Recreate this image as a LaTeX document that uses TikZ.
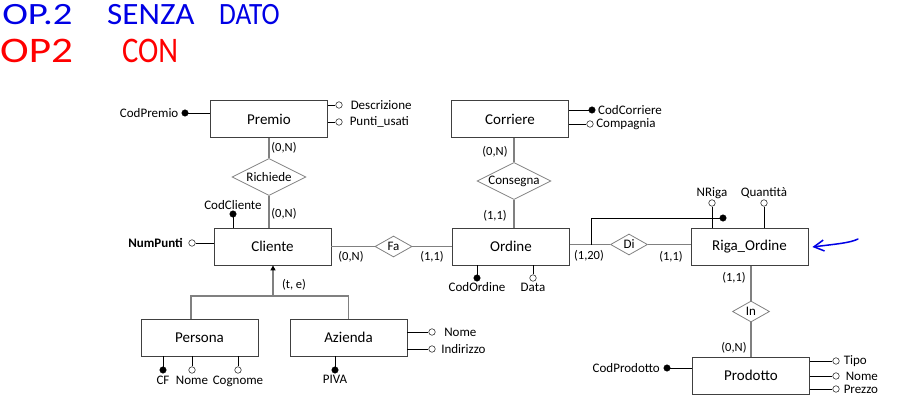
\documentclass[tikz,border=0pt]{standalone}
\usepackage{fontspec}
\setmainfont{Carlito}
\usetikzlibrary{shapes.geometric,arrows.meta,positioning}

\tikzset{
  entita/.style={draw=black!75, line width=0.8pt, minimum width=117pt, minimum height=37pt, inner sep=0pt, font=\fontsize{15}{18}\selectfont},
  rel/.style={diamond, draw=black!50, line width=0.8pt, aspect=2, inner sep=0pt, font=\fontsize{13}{15}\selectfont},
  relbig/.style={rel, minimum width=74pt, minimum height=37pt},
  relsmall/.style={rel, minimum width=37pt, minimum height=21pt},
  lnk/.style={draw=black!50, line width=1.1pt},
  att/.style={draw=black, line width=0.7pt},
  pk/.style={circle, fill=black, draw=black, inner sep=0pt, minimum size=6.5pt},
  op/.style={circle, fill=white, draw=black!80, line width=0.6pt, inner sep=0pt, minimum size=6.5pt},
  lab/.style={inner sep=0pt, font=\fontsize{13}{15}\selectfont},
  card/.style={inner sep=0pt, font=\fontsize{12.5}{15}\selectfont},
  hand/.style={text=#1, inner sep=0pt, anchor=base west, font=\fontsize{31}{31}\selectfont}
}

\begin{document}
\begin{tikzpicture}[x=1pt,y=-1pt]
\useasboundingbox (0,0) rectangle (907,406);
\pgfmathsetmacro{\dy}{278}
\pgfmathsetmacro{\py}{370}

% note scritte a mano
\node[hand=blue!90!black, xscale=1.25] (op1) at (2,25) {OP.2};
\node[hand=blue!90!black, xscale=1.07] (senza) at (107,25) {SENZA};
\node[hand=blue!90!black, xscale=0.88] (dato) at (219,25) {DATO};
\node[hand=red, font=\fontsize{36}{36}\selectfont, xscale=1.2] (op2) at (0,63) {OP2};
\node[hand=red, font=\fontsize{36}{36}\selectfont, xscale=0.85] (con) at (122,63) {CON};

% entita
\node[entita] (premio) at (269,119) {Premio};
\node[entita] (corriere) at (510,119) {Corriere};
\node[entita] (cliente) at (272.5,246.5) {Cliente};
\node[entita] (ordine) at (511,246.5) {Ordine};
\node[entita] (riga) at (749.5,247) {Riga\_Ordine};
\node[entita] (persona) at (199.5,337.5) {Persona};
\node[entita] (azienda) at (348.5,337.5) {Azienda};
\node[entita] (prodotto) at (751,375.5) {Prodotto};

% relazioni
\node[relbig] (richiede) at (269,177) {Richiede};
\node[relbig] (consegna) at (514,181) {Consegna};
\node[relsmall] (fa) at (393.5,246.5) {Fa};
\node[relsmall] (di) at (629,244.5) {Di};
\node[relsmall] (inrel) at (751,311.5) {In};

\draw[lnk] (premio.south) -- (richiede.north);
\draw[lnk] (richiede.south) -- (richiede.south |- cliente.north);
\draw[lnk] ([xshift=4pt]corriere.south) -- (consegna.north);
\draw[lnk] (consegna.south) -- (consegna.south |- ordine.north);
\draw[lnk] (cliente.east |- fa) -- (fa.west);
\draw[lnk] (fa.east) -- (ordine.west |- fa);
\draw[lnk] (ordine.east |- di) -- (di.west);
\draw[lnk] (di.east) -- (riga.west |- di);
\draw[lnk] (riga.south -| inrel) -- (inrel.north);
\draw[lnk] (inrel.south) -- (prodotto.north -| inrel);

% generalizzazione
\coordinate (gen) at (273,296);
\draw[lnk, -{Triangle[length=5pt,width=5pt,color=black]}] (gen) -- (gen |- cliente.south);
\draw[lnk] ([xshift=-8.5pt]persona.north) |- (gen) -| (azienda.north);
\node[card] (te) at (294,285) {(t, e)};

% cardinalita
\foreach \x/\y/\t [count=\i] in {284/148/{(0,N)}, 284/214/{(0,N)}, 351/257/{(0,N)}, 432/257/{(1,1)},
  495/152/{(0,N)}, 495/216/{(1,1)}, 589/256/{(1,20)}, 671/257/{(1,1)}, 734/278/{(1,1)}, 734/348/{(0,N)}}{
  \node[card] (card\i) at (\x,\y) {\t};
}

% attributi
\node[pk] (codpremio) at (185,113) {};
\draw[att] (codpremio) -- (premio.west |- codpremio);
\node[lab, left=3pt of codpremio] (codpremio-t) {CodPremio};
\foreach \y/\t/\n/\d in {105/Descrizione/descr/8pt, 122/Punti\_usati/punti/7pt}{
  \node[op] (\n) at (339,\y) {};
  \draw[att] (premio.east |- \n) -- (\n);
  \node[lab, right=\d of \n] (\n-t) {\t};
}

\node[pk] (codcorr) at (592,110) {};
\draw[att] (corriere.east |- codcorr) -- (codcorr);
\node[lab, right=2.5pt of codcorr] (codcorr-t) {CodCorriere};
\node[op] (comp) at (590,124) {};
\draw[att] (corriere.east |- comp) -- (comp);
\node[lab, right=2.5pt of comp] (comp-t) {Compagnia};

\node[pk] (codcli) at (233,214) {};
\draw[att] (codcli) -- (codcli |- cliente.north);
\node[lab, above=1pt of codcli] (codcli-t) {CodCliente};
\node[op] (numpunti) at (192,243) {};
\draw[att] (numpunti) -- (cliente.west |- numpunti);
\node[lab, left=5.5pt of numpunti, font=\fontsize{13}{15}\selectfont\bfseries] (numpunti-t) {NumPunti};

\foreach \x/\t/\n/\s in {477/CodOrdine/codord/pk, 533/Data/data/op}{
  \node[\s] (\n) at (\x,\dy) {};
  \draw[att] (\n) -- (\n |- ordine.south);
  \node[lab, below=1pt of \n] (\n-t) {\t};
}

\foreach \x/\t/\n in {712/NRiga/nriga, 764/Quantità/quant}{
  \node[op] (\n) at (\x,203) {};
  \draw[att] (\n) -- (\n |- riga.north);
  \node[lab, above=1pt of \n] (\n-t) {\t};
}
\node[pk] (idriga) at (723,218) {};
\draw[att] ([xshift=21pt]ordine.east |- di) |- (idriga);

\foreach \x/\t/\n/\s in {163/CF/cf/pk, 192/Nome/pnome/op, 238/Cognome/cogn/op}{
  \node[\s] (\n) at (\x,\py) {};
  \draw[att] (\n) -- (\n |- persona.south);
  \node[lab, below=2pt of \n] (\n-t) {\t};
}
\node[pk] (piva) at (335,\py) {};
\draw[att] (piva) -- (piva |- azienda.south);
\node[lab, below=2pt of piva] (piva-t) {PIVA};
\foreach \y/\t/\n/\d in {332/Nome/anome/8.5pt, 349/Indirizzo/indir/5.5pt}{
  \node[op] (\n) at (432,\y) {};
  \draw[att] (azienda.east |- \n) -- (\n);
  \node[lab, right=\d of \n] (\n-t) {\t};
}

\node[pk] (codprod) at (667,368) {};
\draw[att] (codprod) -- (prodotto.west |- codprod);
\node[lab, left=3.5pt of codprod] (codprod-t) {CodProdotto};
\foreach \y/\t/\n/\d in {361/Tipo/tipo/4pt, 376/Nome/prnome/6pt, 389/Prezzo/prezzo/4pt}{
  \node[op] (\n) at (836,\y) {};
  \draw[att] (prodotto.east |- \n) -- (\n);
  \node[lab, right=\d of \n] (\n-t) {\t};
}

% freccia a mano
\coordinate (penna) at (858,239);
\draw[blue!90!black, line width=1.5pt, line cap=round, -{Straight Barb[length=10pt,width=11pt]}] (penna) .. controls (850,243) and (836,244) .. ([xshift=4pt]riga.east);

\end{tikzpicture}
\end{document}
